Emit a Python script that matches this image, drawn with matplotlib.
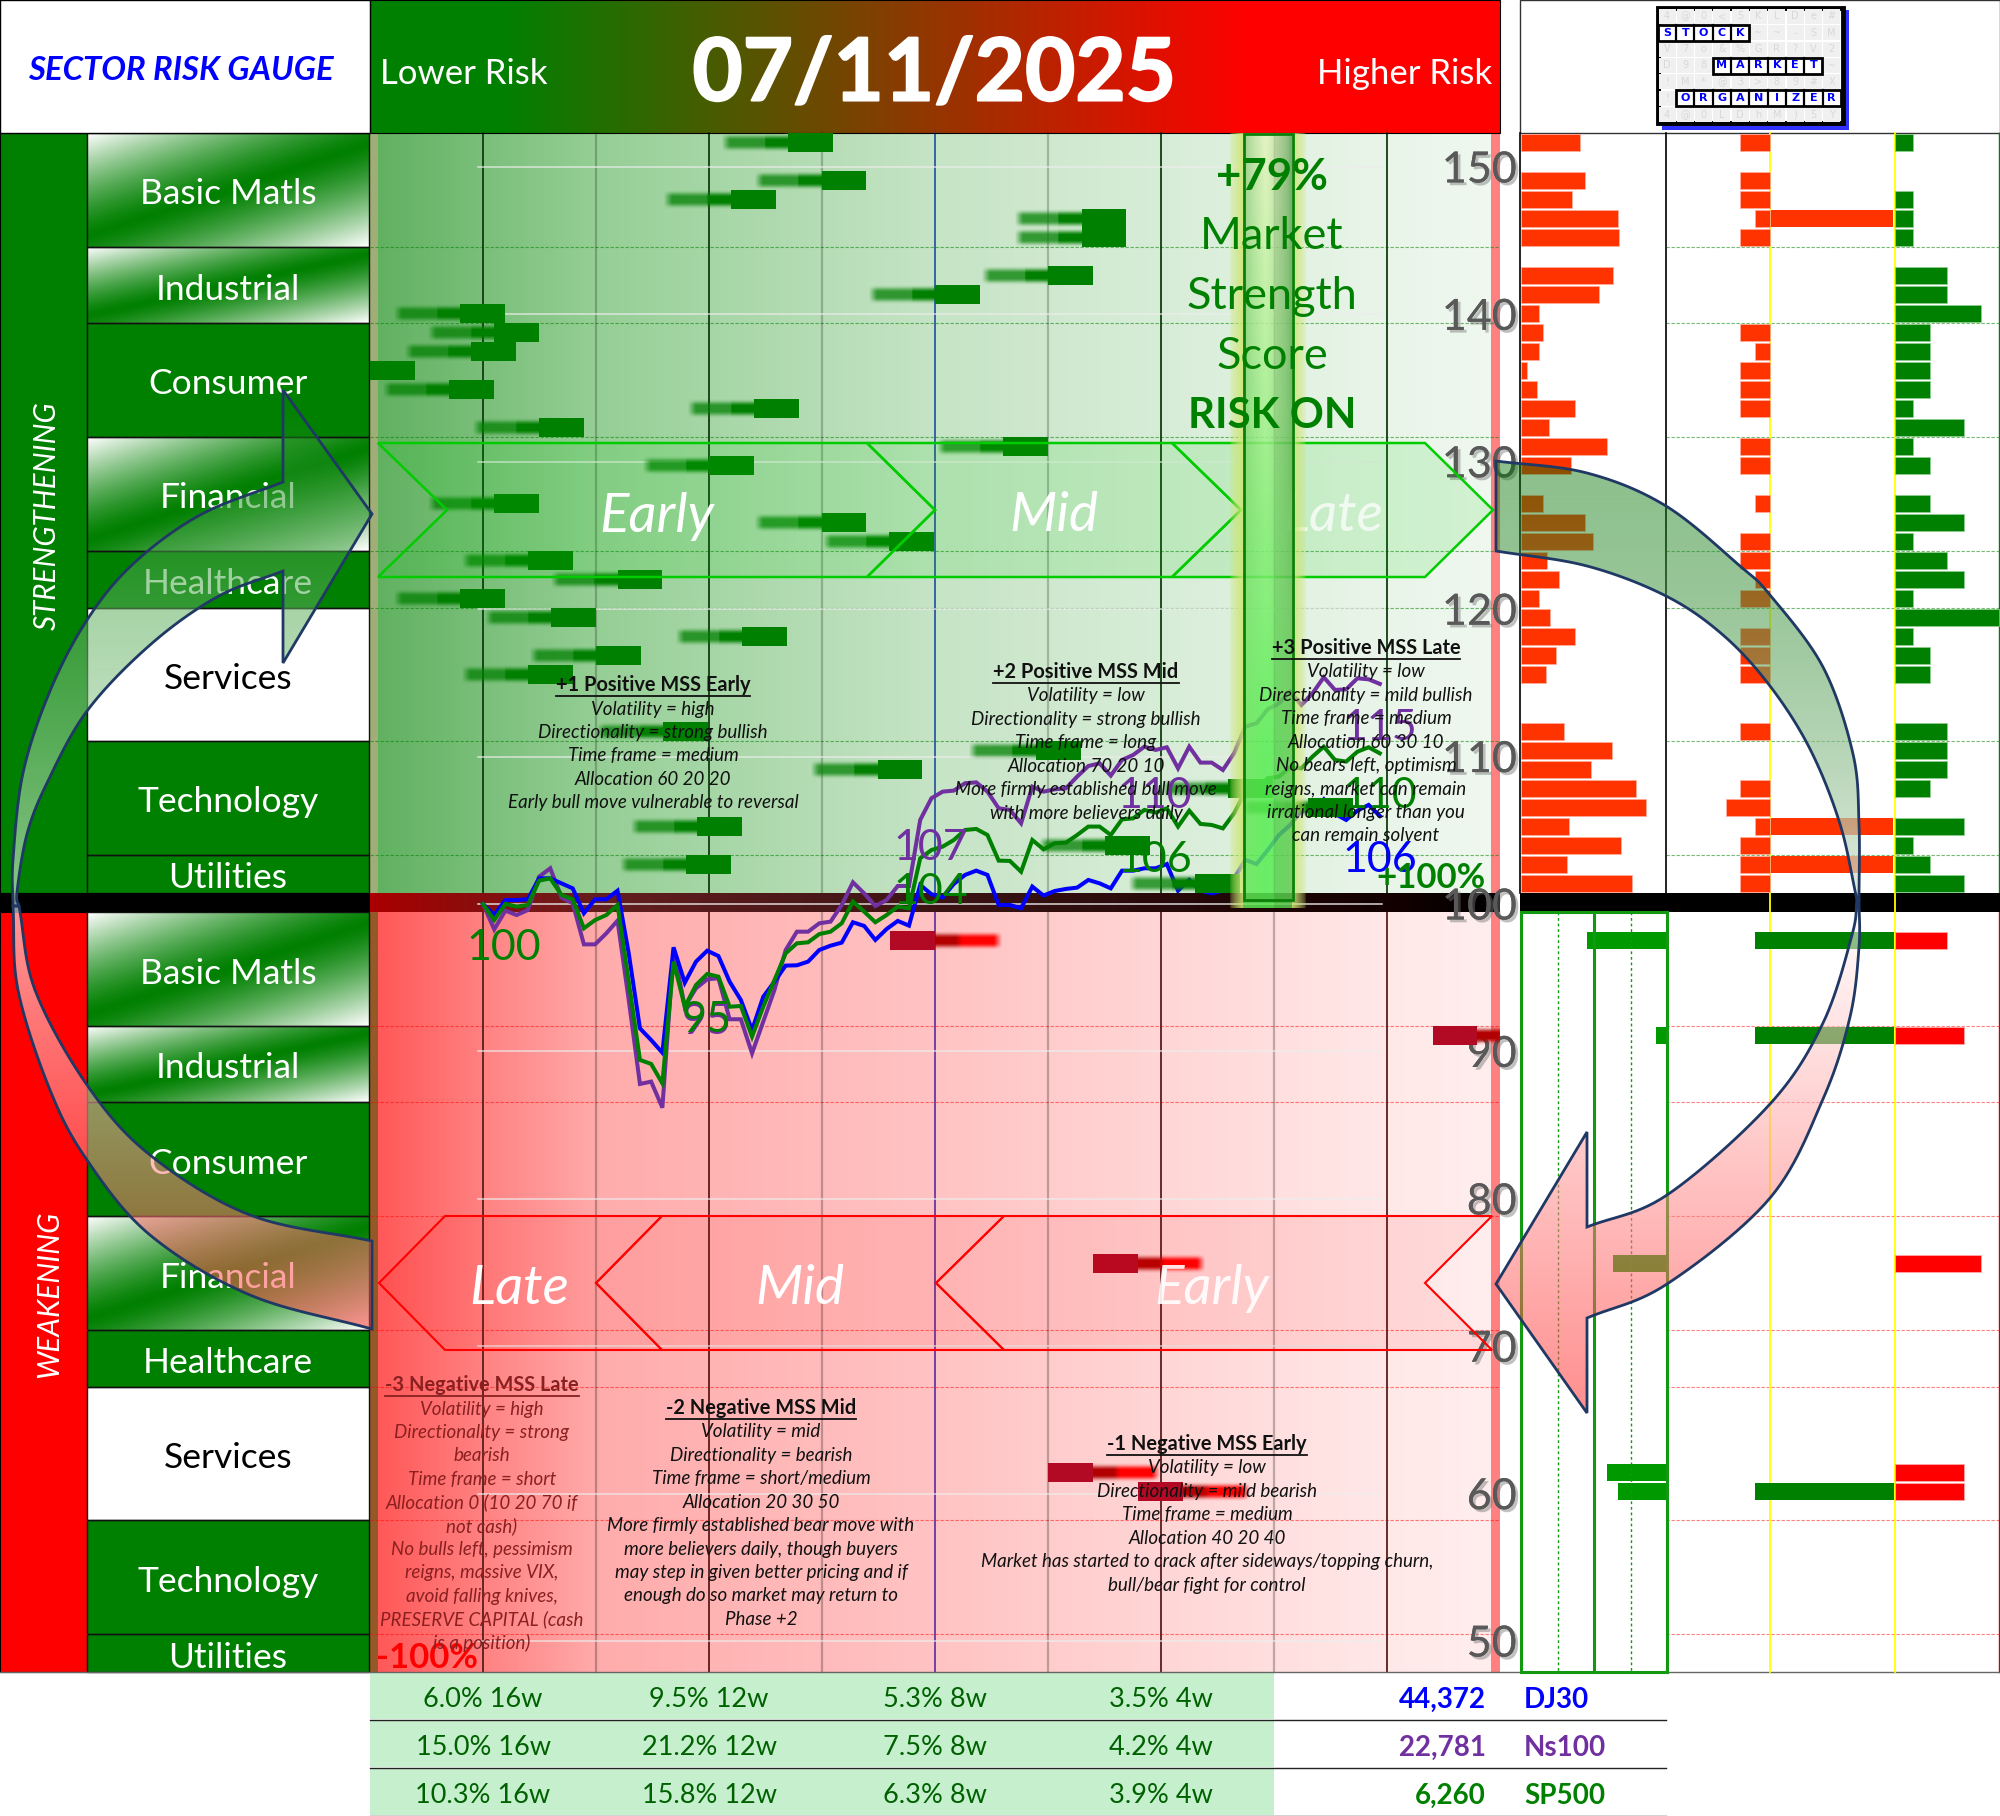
import numpy as np
import matplotlib
matplotlib.use("Agg")
import matplotlib.pyplot as plt
from matplotlib.patches import Polygon, Rectangle
import matplotlib.patheffects as pe

plt.rcParams['font.family'] = ['Lato', 'DejaVu Sans']

# index lines, one value per trading day (16 weeks)
dj30 = [100.0, 99.25, 100.27, 100.27, 100.32, 101.74, 101.74, 101.40, 101.06, 99.37, 100.32, 100.32, 100.90, 96.65,
        91.56, 90.77, 89.91, 97.06, 94.66, 96.09, 96.83, 96.47, 94.73, 93.49, 91.45, 93.71, 94.73, 95.82, 95.84, 96.09,
        96.88, 97.17, 97.38, 98.76, 98.51, 97.56, 98.30, 98.85, 98.53, 101.29, 100.66, 100.45, 101.36, 101.97, 102.26,
        101.97, 99.93, 99.93, 99.71, 101.18, 100.57, 100.88, 101.02, 101.11, 101.63, 101.40, 101.06, 102.26, 102.26,
        102.42, 102.42, 102.71, 100.90, 101.63, 100.90, 100.72, 100.90, 101.74, 102.99, 102.71, 103.66, 104.68, 105.36,
        106.33, 106.33, 107.10, 106.11, 105.70, 106.33, 106.72, 105.97]
sp500 = [100.0, 98.91, 100.0, 99.82, 99.93, 101.58, 101.74, 100.61, 100.32, 98.35, 98.91, 99.25, 99.93, 94.73, 89.42,
         89.15, 87.83, 96.09, 93.03, 94.50, 95.25, 95.07, 93.03, 93.08, 91.0, 93.03, 94.84, 96.65, 97.33, 97.40, 97.96,
         98.12, 98.69, 100.16, 99.48, 98.76, 99.25, 99.82, 99.71, 103.10, 103.66, 103.89, 104.34, 105.02, 105.09,
         104.68, 102.94, 102.92, 102.19, 104.34, 103.71, 104.12, 104.16, 104.68, 105.25, 105.25, 104.68, 105.74, 105.81,
         106.38, 106.2, 106.49, 105.25, 106.33, 105.43, 105.36, 105.13, 106.15, 107.62, 107.78, 108.53, 108.64, 109.27,
         109.2, 110.0, 110.67, 109.77, 109.66, 110.33, 110.63, 110.22]
ns100 = [100.0, 98.28, 99.55, 99.25, 99.59, 101.85, 102.42, 100.45, 100.05, 97.26, 97.26, 98.01, 98.87, 93.49, 87.79,
         87.95, 86.18, 96.88, 93.03, 94.28, 94.89, 94.96, 92.18, 92.18, 89.87, 92.02, 94.17, 96.88, 98.12, 98.12, 98.69,
         98.80, 99.93, 101.47, 100.72, 99.86, 100.27, 101.22, 101.22, 105.70, 107.17, 107.62, 107.69, 108.19, 108.25,
         107.62, 106.49, 106.38, 105.47, 107.96, 107.62, 107.78, 107.85, 108.64, 109.36, 109.54, 108.71, 109.77, 110.11,
         110.67, 110.45, 110.63, 109.2, 110.67, 109.59, 109.59, 109.09, 110.22, 112.03, 112.26, 113.21, 113.61, 114.4,
         113.5, 114.29, 115.38, 114.52, 114.56, 115.31, 115.24, 114.93]
y_ticks = [150, 140, 130, 120, 110, 100, 90, 80, 70, 60, 50]

# stocks in the strengthening half: row, position of block on the day scale
up_rows = [0, 2, 3, 4, 5, 7, 8, 9, 10, 11, 12, 13, 14, 15, 16, 17, 19, 20, 21, 22, 23, 24, 25, 26, 27, 28, 31, 32, 33,
           34, 35, 36, 37, 38, 39]
up_pos = [27.2, 30.2, 22.1, 53.4, 53.4, 50.4, 40.3, -2.05, 0.98, -1.03, -10.08, -3.03, 24.2, 5.0, 46.4, 20.2, 0.98,
          30.2, 36.2, 4.0, 12.0, -2.05, 6.07, 23.1, 10.1, 4.0, 16.1, 49.3, 35.2, 66.5, 73.6, 19.1, 55.5, 18.1, 63.5]
# right hand panel values for those rows
up_p1 = [58.7, 63.7, 51, 97, 97.7, 92.3, 78, 18, 22, 18.3, 6, 16, 54.3, 27.7, 86.3, 49.7, 21.7, 63.7, 72, 26, 38, 18,
         29.3, 54, 35, 25, 43, 91.3, 70.3, 115, 125, 47.7, 99.7, 46.3, 111]
up_short = [2, 2, 2, 1, 2, 0, 0, 0, 2, 1, 2, 2, 2, 0, 2, 2, 1, 0, 2, 2, 1, 2, 0, 2, 2, 2, 2, 0, 0, 2, 3, 1, 2, 2, 2]
up_mid = [4, 36, 38]
up_long = [1, 0, 1, 1, 1, 3, 3, 5, 2, 2, 2, 2, 1, 4, 1, 2, 2, 4, 1, 3, 4, 1, 6, 1, 2, 2, 3, 3, 3, 2, 0, 4, 1, 2, 4]

# stocks in the weakening half
down_rows = [1, 6, 18, 29, 30]
down_pos = [36.3, 84.7, 54.4, 50.4, 58.4]
down_p1 = [79, 10, 53.5, 59, 48]
down_mid = [1, 6, 30]
down_long = [3, 4, 5, 4, 4]

sectors = ["Basic Matls", "Industrial", "Consumer", "Financial", "Healthcare", "Services", "Technology", "Utilities"]
sector_sizes = [6, 4, 6, 6, 3, 7, 6, 2]
sector_style = ["shine", "shine", "solid", "shine", "solid", "white", "solid", "solid"]

table_cols = [483, 709, 935, 1161]
table_rows = [["6.0% 16w", "9.5% 12w", "5.3% 8w", "3.5% 4w"],
              ["15.0% 16w", "21.2% 12w", "7.5% 8w", "4.2% 4w"],
              ["10.3% 16w", "15.8% 12w", "6.3% 8w", "3.9% 4w"]]
index_values = ["44,372", "22,781", "6,260"]
index_names = ["DJ30", "Ns100", "SP500"]
index_colors = ["#0000FF", "#7030A0", "#008000"]

phase_text = [
    (653, 685, "+1 Positive MSS Early", ["Volatility = high", "Directionality = strong bullish", "Time frame = medium",
                                         "Allocation 60 20 20", "Early bull move vulnerable to reversal"], "#111111"),
    (1086, 672, "+2 Positive MSS Mid", ["Volatility = low", "Directionality = strong bullish", "Time frame = long",
                                        "Allocation 70 20 10", "More firmly established bull move",
                                        "with more believers daily"], "#111111"),
    (1366, 648, "+3 Positive MSS Late", ["Volatility = low", "Directionality = mild bullish", "Time frame = medium",
                                         "Allocation 60 30 10", "No bears left, optimism", "reigns, market can remain",
                                         "irrational longer than you", "can remain solvent"], "#111111"),
    (482, 1385, "-3 Negative MSS Late", ["Volatility = high", "Directionality = strong", "bearish", "Time frame = short",
                                         "Allocation 0 (10 20 70 if", "not cash)", "No bulls left, pessimism",
                                         "reigns, massive VIX,", "avoid falling knives,", "PRESERVE CAPITAL (cash",
                                         "is a position)"], "#8A2020"),
    (761, 1408, "-2 Negative MSS Mid", ["Volatility = mid", "Directionality = bearish", "Time frame = short/medium",
                                        "Allocation 20 30 50", "More firmly established bear move with",
                                        "more believers daily, though buyers", "may step in given better pricing and if",
                                        "enough do so market may return to", "Phase +2"], "#111111"),
    (1207, 1444, "-1 Negative MSS Early", ["Volatility = low", "Directionality = mild bearish", "Time frame = medium",
                                           "Allocation 40 20 40", "Market has started to crack after sideways/topping churn,",
                                           "bull/bear fight for control"], "#111111"),
]

logo_rows = ["4@0<5KLDe#", "STOCK~~-SM", "V7o&%GR?V2", "D98MARKET~", "!M*@3>89#X", "!ORGANIZER", "4@0LDhM)5Y"]
logo_words = [(1, 0, 5), (3, 3, 9), (5, 1, 10)]

W, H = 2000, 1816
fig = plt.figure(figsize=(W / 100, H / 100), dpi=100)


def make_axes(x0, y0, x1, y1, z):
    a = fig.add_axes([x0 / W, 1 - y1 / H, (x1 - x0) / W, (y1 - y0) / H], zorder=z)
    a.patch.set_alpha(0)
    a.set_axis_off()
    return a


def gradient(a, box, stops, zorder=1):
    # horizontal gradient from (x, rgb) stops, box is x0,y0,x1,y1 in pixels
    xs = np.linspace(box[0], box[2], 300)
    img = np.array([[np.interp(xs, [s[0] for s in stops], [s[1][c] for s in stops]) for c in range(3)]])
    img = np.transpose(img, (0, 2, 1)) / 255
    a.imshow(img, extent=(box[0], box[2], box[3], box[1]), aspect='auto', zorder=zorder)


def rect(a, x0, y0, x1, y1, **kw):
    a.add_patch(Rectangle((x0, y0), x1 - x0, y1 - y0, **kw))


def smooth(pts, n=14):
    # catmull-rom through the points, for the arrow outlines
    p = np.array(pts, float)
    p = np.vstack([2 * p[0] - p[1], p, 2 * p[-1] - p[-2]])
    out = []
    for i in range(1, len(p) - 2):
        for t in np.linspace(0, 1, n, endpoint=False):
            out.append(0.5 * (2 * p[i] + (p[i + 1] - p[i - 1]) * t
                              + (2 * p[i - 1] - 5 * p[i] + 4 * p[i + 1] - p[i + 2]) * t ** 2
                              + (3 * p[i] - p[i - 1] - 3 * p[i + 1] + p[i + 2]) * t ** 3))
    out.append(p[-2])
    return np.array(out)


def arrow_part(a, outline, top_rgba, bottom_rgba):
    outline = np.array(outline)
    y0, y1 = outline[:, 1].min(), outline[:, 1].max()
    x0, x1 = outline[:, 0].min(), outline[:, 0].max()
    ramp = np.linspace(0, 1, 256)[:, None, None]
    img = np.array(top_rgba)[None, None, :] * (1 - ramp) + np.array(bottom_rgba)[None, None, :] * ramp
    poly = Polygon(outline, closed=True, fc='none', ec='none', zorder=9)
    a.add_patch(poly)
    im = a.imshow(img, extent=(x0, x1, y1, y0), aspect='auto', zorder=9)
    im.set_clip_path(poly)


dy = 3.5  # Lato sits a little high when centred

bg = make_axes(0, 0, W, H, 0)
bg.set_xlim(0, W)
bg.set_ylim(H, 0)
bg.autoscale(False)
bg.patch.set_alpha(1)

# header
gradient(bg, (370, 0, 1500, 133), [(370, (0, 128, 0)), (500, (0, 128, 0)), (1250, (255, 0, 0)), (1500, (255, 0, 0))])
# chart background, both halves
gradient(bg, (370, 133, 1500, 893), [(370, (96, 176, 96)), (600, (150, 207, 150)), (935, (198, 228, 198)),
                                     (1387, (233, 245, 233)), (1500, (240, 248, 240))])
gradient(bg, (370, 912, 1500, 1672), [(370, (255, 85, 85)), (483, (255, 130, 130)), (600, (255, 172, 172)),
                                      (935, (255, 195, 195)), (1387, (255, 232, 232)), (1500, (255, 238, 238))])
gradient(bg, (370, 893, 1500, 912), [(370, (170, 0, 0)), (600, (100, 30, 30)), (935, (60, 20, 20)), (1387, (20, 0, 0)),
                                     (1500, (0, 0, 0))], zorder=3)
rect(bg, 0, 893, 370, 912, fc='black', zorder=3)
rect(bg, 1520, 893, 2000, 912, fc='black', zorder=3)
rect(bg, 370, 133, 378, 893, fc=(.93, .68, .58, .45), zorder=2)
rect(bg, 370, 912, 378, 1672, fc=(.31, .36, .04, .6), zorder=2)
rect(bg, 1491, 133, 1500, 1672, fc='#FF8080', zorder=2)

# left band and sector cells
rect(bg, 0, 133, 87, 893, fc='#008000', ec='black', lw=.8)
rect(bg, 0, 912, 87, 1672, fc='#FF0000', ec='black', lw=.8)
for base in [133, 912]:
    top = base
    for name, size, style in zip(sectors, sector_sizes, sector_style):
        bottom = top + 19 * size
        if style == "shine":
            u, v = np.meshgrid(np.linspace(0, 1, 200), np.linspace(0, 1, 100))
            t = .45 * u + .55 * v
            w = np.clip(np.abs(t - .5) / .5, 0, 1) ** 1.3
            img = np.dstack([w, .5 + .5 * w, w])
            bg.imshow(img, extent=(87, 369, bottom, top), aspect='auto', zorder=1)
        else:
            rect(bg, 87, top, 369, bottom, fc='white' if style == "white" else '#008000', zorder=1)
        rect(bg, 87, top, 369, bottom, fc='none', ec='#111111', lw=1, zorder=2)
        bg.text(228, (top + bottom) / 2 + 1 + dy, name, color='black' if style == "white" else 'white', fontsize=25.5,
                ha='center', va='center', zorder=4)
        top = bottom

# dashed sector boundaries in chart and right panel
for base, col in [(133, (0, .5, 0, .55)), (912, (1, 0, 0, .5))]:
    for edge in np.cumsum(sector_sizes)[:-1]:
        y = base + 19 * edge
        bg.plot([370, 1500], [y, y], color=col, lw=.8, ls=(0, (3, 1.5)), zorder=2)
        bg.plot([1666, 2000], [y, y], color=col, lw=.8, ls=(0, (3, 1.5)), zorder=2)

# week lines
for i, x in enumerate(range(483, 1400, 113)):
    if x == 935:
        bg.plot([x, x], [133, 893], color='#1F4E9E', lw=1.2, zorder=2)
        bg.plot([x, x], [912, 1672], color='#5B2C9E', lw=1.2, zorder=2)
    elif i % 2 == 0:
        bg.plot([x, x], [133, 893], color='#103C10', lw=1.3, zorder=2)
        bg.plot([x, x], [912, 1672], color='#5A1C1C', lw=1.3, zorder=2)
    else:
        bg.plot([x, x], [133, 893], color=(0, 0, 0, .22), lw=1.6, zorder=2)
        bg.plot([x, x], [912, 1672], color=(0, 0, 0, .25), lw=1.6, zorder=2)

# header and frame lines
rect(bg, 0, 0, 370, 133, fc='white', ec='black', lw=1, zorder=2)
rect(bg, 1520, 0, 2000, 133, fc='white', ec='#333333', lw=1, zorder=2)
rect(bg, 370, 0, 1500, 133, fc='none', ec='black', lw=.8, zorder=2)
bg.plot([1520, 1520, ], [133, 893], color='black', lw=1.2, zorder=2)
bg.plot([1666, 1666], [133, 893], color='black', lw=1.2, zorder=2)
bg.plot([1770, 1770], [133, 1672], color='#FFFF00', lw=1.3, zorder=4)
bg.plot([1894.7, 1894.7], [133, 1672], color='#FFFF00', lw=1.3, zorder=4)
bg.plot([1999, 1999], [133, 893], color='#008000', lw=1, zorder=2)
bg.plot([1999, 1999], [912, 1672], color='#CC0000', lw=1, zorder=2)
bg.plot([0, 2000], [1672, 1672], color='#666666', lw=1, zorder=2)

# results table
for r in range(3):
    y0 = 1672 + 48 * r
    rect(bg, 370, y0, 1274, y0 + 47, fc='#C6EFCE', zorder=1)
    bg.plot([370, 1666], [y0 + 47.5, y0 + 47.5], color='#222222', lw=1, zorder=2)
    for x, s in zip(table_cols, table_rows[r]):
        bg.text(x, y0 + 24 + dy, s, color='#006100', fontsize=19.5, ha='center', va='center')
    bg.text(1486, y0 + 24 + dy, index_values[r], color=index_colors[r], fontsize=20, fontweight='bold', ha='right', va='center')
    bg.text(1524, y0 + 24 + dy, index_names[r], color=index_colors[r], fontsize=20, fontweight='bold', ha='left', va='center')

bg.text(181, 69 + 1, "SECTOR RISK GAUGE", color='#0000FF', fontsize=23.7, fontweight='bold', fontstyle='italic',
        ha='center', va='center', zorder=4)
bg.text(380, 70 + dy, "Lower Risk", color='white', fontsize=25, ha='left', va='center', zorder=4)
bg.text(1492, 70 + dy, "Higher Risk", color='white', fontsize=25, ha='right', va='center', zorder=4)
bg.text(934, 76, "07/11/2025", color='white', fontsize=62.5, fontweight='bold', ha='center', va='center', zorder=4,
        path_effects=[pe.withStroke(linewidth=1.5, foreground='white')])
bg.text(47, 516, "STRENGTHENING", color='white', fontsize=21.3, fontstyle='italic', rotation=90, ha='center', va='center', zorder=4)
bg.text(49, 1294, "WEAKENING", color='white', fontsize=21.3, fontstyle='italic', rotation=90, ha='center', va='center', zorder=4)

# logo
rect(bg, 1662, 10, 1849, 130, fc='#3030FF', zorder=3)
rect(bg, 1657.5, 8, 1842.5, 123, fc='white', ec='black', lw=3.5, zorder=3)
for r, row in enumerate(logo_rows):
    y = 16.3 + 16.4 * r
    for c, ch in enumerate(row):
        x = 1667 + 18.3 * c
        rect(bg, x - 8.5, y - 7.5, x + 8.5, y + 7.5, fc='#F0F0F0', zorder=3.1)
        bg.text(x, y, ch, color='#D8D8D8', fontsize=7, ha='center', va='center', family='DejaVu Sans', zorder=3.2)
for r, c0, c1 in logo_words:
    y = 16.3 + 16.4 * r
    rect(bg, 1667 + 18.3 * c0 - 9, y - 8, 1667 + 18.3 * (c1 - 1) + 9, y + 8, fc='white', ec='black', lw=2, zorder=3.3)
    for c in range(c0, c1):
        x = 1667 + 18.3 * c
        if c > c0:
            bg.plot([x - 9.15, x - 9.15], [y - 8, y + 8], color='black', lw=1.6, zorder=3.4)
        bg.text(x, y, logo_rows[r][c], color='#0000FF', fontsize=8, fontweight='bold', ha='center', va='center',
                family='DejaVu Sans', zorder=3.5)

# chart axes: trading day on x, index level on y
main = make_axes(370, 133, 1500, 1672, 1)
main.set_xlim(-10.08, 90.72)
main.set_ylim(47.9, 152.3)
for v in y_ticks:
    if v != 100:
        main.plot([-0.45, 80.2], [v, v], color=(.93, .93, .93, .8), lw=1.1, zorder=1)
main.plot([-0.45, 80.2], [100, 100], color=(.93, .93, .93, .9), lw=1.1, zorder=1)
days = np.arange(len(dj30))
main.plot(days, ns100, color='#7030A0', lw=2.9, zorder=5, solid_joinstyle='miter')
main.plot(days, dj30, color='#0000FF', lw=2.9, zorder=5, solid_joinstyle='miter')
main.plot(days, sp500, color='#008000', lw=2.9, zorder=5, solid_joinstyle='miter')
shadow = [pe.withSimplePatchShadow(offset=(2, -2), alpha=.45, shadow_rgbFace='#777777'), pe.Normal()]
for v in y_ticks:
    main.text(92.2, v - .24, str(v), color='#595959', fontsize=31, ha='right', va='center', zorder=6, path_effects=shadow)

# stock blocks with blurred tails, drawn by row
tail_v = np.array([.05, .35, .75, 1, 1, 1, 1, .75, .35, .05])[:, None]
tail_h = np.clip(np.linspace(0, 1, 40) / .12, 0, 1) * np.where(np.linspace(0, 1, 40) < .65, .75, 1)
green_tail = np.dstack([np.zeros((10, 40)), np.full((10, 40), .5), np.zeros((10, 40)), tail_v * tail_h[None, :]])
red_h = np.linspace(0, 1, 40)
red_r = np.interp(red_h, [0, .3, .4, 1], [.7, .7, 1, 1])
red_tail = np.dstack([np.tile(red_r, (10, 1)), np.zeros((10, 40)), np.zeros((10, 40)),
                      tail_v * np.clip((1 - red_h) / .12, 0, 1)[None, :]])

rows_up = make_axes(370, 133, 1500, 893, 1)
rows_up.set_xlim(-10.08, 90.72)
rows_up.set_ylim(39.5, -.5)
rows_up.autoscale(False)
for k, p in zip(up_rows, up_pos):
    rows_up.barh(k, 4, left=p, height=1, color='#008000', zorder=3)
    rows_up.imshow(green_tail, extent=(p - 6, p, k + .5, k - .5), aspect='auto', interpolation='bilinear', zorder=2)

rows_down = make_axes(370, 912, 1500, 1672, 1)
rows_down.set_xlim(-10.08, 90.72)
rows_down.set_ylim(39.5, -.5)
rows_down.autoscale(False)
for k, p in zip(down_rows, down_pos):
    rows_down.barh(k, 4, left=p, height=1, color='#B20A24', zorder=3)
    rows_down.imshow(red_tail, extent=(p + 4, p + 10, k + .5, k - .5), aspect='auto', interpolation='bilinear', zorder=2)

# right panels
p1_up = make_axes(1520, 133, 1666, 893, 2)
p1_up.set_xlim(0, 146)
p1_up.set_ylim(39.5, -.5)
p1_up.barh(up_rows, up_p1, height=.9, left=1, color='#FF3300', ec='#FFB0A0', lw=.5)

p2_up = make_axes(1666, 133, 2000, 893, 2)
p2_up.set_xlim(-104 / 14.8, 230 / 14.8)
p2_up.set_ylim(39.5, -.5)
# short (left of yellow line), middle and long (right of second line) columns
for k, s in zip(up_rows, up_short):
    if s:
        p2_up.barh(k, -s, height=.9, color='#FF3300', ec='#FFB0A0', lw=.5)
for k in up_mid:
    p2_up.barh(k, 124 / 14.8 - .2, left=.1, height=.9, color='#FF3300')
for k, s in zip(up_rows, up_long):
    if s:
        p2_up.barh(k, s * 17.2 / 14.8, left=124.7 / 14.8 + .05, height=.9, color='#008000', ec='#90D090', lw=.5)

p1_down = make_axes(1520, 912, 1666, 1672, 2)
p1_down.set_xlim(146, 0)
p1_down.set_ylim(39.5, -.5)
p1_down.barh(down_rows, down_p1, height=.9, color='#009900')

p2_down = make_axes(1666, 912, 2000, 1672, 2)
p2_down.set_xlim(-104 / 14.8, 230 / 14.8)
p2_down.set_ylim(39.5, -.5)
for k in down_mid:
    p2_down.barh(k, 124 / 14.8 + 1, left=-1, height=.9, color='#008000')
for k, s in zip(down_rows, down_long):
    p2_down.barh(k, s * 17.2 / 14.8, left=124.7 / 14.8 + .05, height=.9, color='#FF0000', ec='#FFB0B0', lw=.5)

# overlay: chevrons, score band, text, arrows
fg = make_axes(0, 0, W, H, 3)
fg.set_xlim(0, W)
fg.set_ylim(H, 0)
fg.autoscale(False)

green_chev = [[(378, 443), (867, 443), (935, 510), (867, 577), (378, 577), (447, 510)],
              [(867, 443), (1172, 443), (1241, 510), (1172, 577), (867, 577), (935, 510)],
              [(1172, 443), (1425, 443), (1493, 510), (1425, 577), (1172, 577), (1241, 510)]]
red_chev = [[(379, 1283), (445, 1216), (662, 1216), (596, 1283), (662, 1350), (445, 1350)],
            [(596, 1283), (662, 1216), (1004, 1216), (936, 1283), (1004, 1350), (662, 1350)],
            [(936, 1283), (1004, 1216), (1492, 1216), (1425, 1283), (1492, 1350), (1004, 1350)]]
for c in green_chev:
    fg.add_patch(Polygon(c, closed=True, fc=(0, .8, 0, .12), ec='#00CC00', lw=1.8, zorder=1))
for c in red_chev:
    fg.add_patch(Polygon(c, closed=True, fc=(1, 0, 0, .08), ec='#FF0000', lw=1.5, zorder=1))
for x, y, s, a in [(657, 513, "Early", 1), (1054, 512, "Mid", 1), (1333, 512, "Late", .75),
                   (519, 1285, "Late", 1), (800, 1285, "Mid", 1), (1212, 1285, "Early", .9)]:
    fg.text(x, y + dy, s, color='white', alpha=a, fontsize=39.5, fontstyle='italic', ha='center', va='center', zorder=2)

# market strength band with glow
u = np.linspace(0, 1, 78)
t = np.clip(np.linspace(0, 1, 200) / .8, 0, 1)[:, None]
s = np.clip(1 - np.abs(u - .47) / .32, 0, 1)[None, :] ** .6
centre = np.array([230, 244, 190])[None, None, :] * (1 - t[..., None]) + np.array([85, 238, 80])[None, None, :] * t[..., None]
edge = np.array([110, 185, 100])[None, None, :] * (1 - t[..., None]) + np.array([110, 225, 90])[None, None, :] * t[..., None]
band = (centre * s[..., None] + edge * (1 - s[..., None])) / 255
inner = np.where((u > 14 / 78) & (u < 63 / 78), 1.0, 0.0)[None, :]
alpha = np.tile(inner * .85, (200, 1))
glow = np.array([205, 230, 115]) / 255
band = band * inner[..., None] + glow * (1 - inner[..., None])
g_left = np.clip(u / (14 / 78), 0, 1) ** .6
g_right = np.clip((1 - u) / (15 / 78), 0, 1) ** .6
alpha = alpha + (1 - inner) * (g_left * g_right)[None, :] * .9
# right part of the band is a little darker
band[:, (u > 45 / 78) & (u < 63 / 78)] *= .9
fg.imshow(np.dstack([band, alpha]), extent=(1229, 1307, 908, 133), aspect='auto', zorder=2.5)
rect(fg, 1244, 134, 1293, 900, fc='none', ec='#0A800A', lw=2, zorder=2.6)
for y, s_, w, fs in [(173, "+79%", 'bold', 31.5), (233, "Market", 'normal', 32.5), (293, "Strength", 'normal', 32.5),
                     (353, "Score", 'normal', 32.5), (413, "RISK ON", 'bold', 30.3)]:
    fg.text(1272, y + dy, s_, color='#008000', fontsize=fs, fontweight=w, ha='center', va='center', zorder=3)

# series end labels
for x, y, s_, col in [(504, 945, "100", '#008000'), (707, 1018, "95", '#7030A0'), (707, 1016, "95", '#008000'),
                      (931, 845, "107", '#7030A0'), (931, 889, "104", '#008000'), (1155, 793, "110", '#7030A0'),
                      (1155, 856, "106", '#008000'), (1380, 724, "115", '#7030A0'), (1380, 793, "110", '#008000'),
                      (1380, 857, "106", '#0000FF')]:
    fg.text(x, y + dy, s_, color=col, fontsize=31, ha='center', va='center', zorder=3)
fg.text(1431, 874 + dy, "+100%", color='#008000', fontsize=25, fontweight='bold', ha='center', va='center', zorder=3)
fg.text(427, 1654 + dy, "-100%", color='#FF0000', fontsize=25, fontweight='bold', ha='center', va='center', zorder=3)

# phase descriptions
renderer = fig.canvas.get_renderer()
for x, y, title, lines, col in phase_text:
    tt = fg.text(x, y, title, color=col, fontsize=14.4, fontweight='bold', ha='center', va='center', zorder=4)
    bb = tt.get_window_extent(renderer)
    fg.plot([bb.x0, bb.x1], [y + 11, y + 11], color=col, lw=1.3, zorder=4)
    for i, line in enumerate(lines):
        fg.text(x, y + 24 + 23.4 * i, line, color=col, fontsize=13.5, fontstyle='italic', ha='center', va='center', zorder=4)

# curved arrows
navy = '#1F3864'
left_outer = smooth([(283, 482), (200, 515), (133, 564), (87, 620), (50, 691), (23, 773), (13, 860), (13, 906)])
left_inner = smooth([(283, 571), (217, 597), (150, 645), (87, 711), (47, 783), (27, 834), (17, 892), (19, 906)])
left_low_in = smooth([(19, 906), (35, 990), (87, 1085), (150, 1155), (250, 1215), (372, 1241)])
left_low_out = smooth([(13, 906), (18, 990), (50, 1090), (87, 1160), (150, 1235), (250, 1295), (372, 1329)])
right_outer = smooth([(1496, 461), (1587, 473), (1666, 506), (1740, 566), (1770, 595), (1823, 667), (1853, 754),
                      (1859, 824), (1859, 900)])
right_inner = smooth([(1496, 551), (1587, 566), (1666, 596), (1723, 635), (1770, 686), (1810, 749), (1840, 824),
                      (1857, 900)])
right_low_out = smooth([(1859, 900), (1859, 947), (1850, 1017), (1823, 1099), (1770, 1198), (1667, 1284), (1587, 1318)])
right_low_in = smooth([(1857, 900), (1852, 935), (1823, 1023), (1770, 1104), (1667, 1195), (1587, 1227)])

part_a = np.vstack([[(372, 514), (283, 390)], left_outer, left_inner[::-1], [(283, 663)]])
part_b = np.vstack([left_low_in, left_low_out[::-1]])
part_c = np.vstack([right_outer, right_inner[::-1]])
part_d = np.vstack([right_low_out, [(1587, 1413), (1496, 1284), (1587, 1132)], right_low_in[::-1]])

arrow_part(fg, part_a, (0, .5, 0, .5), (.88, .95, .88, .62))
arrow_part(fg, part_b, (1, 1, 1, .6), (1, .25, .25, .55))
arrow_part(fg, part_c, (0, .45, 0, .45), (.85, .9, .85, .75))
arrow_part(fg, part_d, (1, 1, 1, .55), (1, .2, .2, .55))
for poly_pts in [part_a, part_c, part_d]:
    fg.add_patch(Polygon(poly_pts, closed=True, fc='none', ec=navy, lw=2, zorder=10))
fg.add_patch(Polygon(part_b, closed=True, fc='none', ec=navy, lw=2, zorder=10))

# green frame of the weakening panel
for x in [1521, 1594, 1666.5]:
    fg.plot([x, x], [912, 1672], color='#119911', lw=2.2, zorder=6)
fg.plot([1521, 1666.5], [912, 912], color='#119911', lw=2.2, zorder=6)
fg.plot([1521, 1666.5], [1672, 1672], color='#119911', lw=2.2, zorder=6)
for x in [1557.7, 1631]:
    fg.plot([x, x], [912, 1672], color='#119911', lw=1, ls=(0, (2, 2)), zorder=6)

fig.savefig("out.png", dpi=100)
